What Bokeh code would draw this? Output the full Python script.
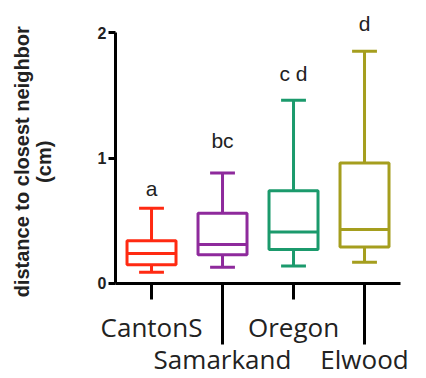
import math
from bokeh.plotting import figure
from bokeh.models import LinearAxis, FixedTicker, Range1d, ColumnDataSource, Label
from bokeh.core.properties import value
from bokeh.embed import file_html
from bokeh.resources import INLINE

# ---- data ----
groups = ["CantonS", "Samarkand", "Oregon", "Elwood"]
whisker_low = [0.09, 0.13, 0.14, 0.17]
q1 = [0.15, 0.23, 0.27, 0.29]
median = [0.24, 0.31, 0.41, 0.43]
q3 = [0.34, 0.56, 0.74, 0.96]
whisker_high = [0.60, 0.88, 1.46, 1.85]
letters = ["a", "bc", "c d", "d"]
letter_y = [0.76, 1.14, 1.67, 2.07]
colors = ["#ff2a12", "#8e2a9c", "#1b9a6c", "#a59e1e"]
y_ticks = [0, 1, 2]
y_title = "distance to closest neighbor\n(cm)"

xs = list(range(1, len(groups) + 1))
box_w = 0.69
cap_w = 0.35
x_axis_start, x_axis_end = 0.493, 4.507

src = ColumnDataSource(dict(
    x=xs, lo=whisker_low, q1=q1, med=median, q3=q3, hi=whisker_high,
    col=colors, letter=letters, ly=letter_y,
    bl=[x - box_w / 2 for x in xs], br=[x + box_w / 2 for x in xs],
    cl=[x - cap_w / 2 for x in xs], cr=[x + cap_w / 2 for x in xs],
))

p = figure(width=426, height=378, output_backend="svg", toolbar_location=None,
           x_range=Range1d(-1.127, 4.873), y_range=Range1d(-0.757, 2.255),
           x_axis_location=None, y_axis_location=None,
           min_border_left=0, min_border_right=0, min_border_top=0, min_border_bottom=0)
p.grid.visible = False
p.outline_line_color = None
p.background_fill_color = "white"

lw = 3
# whiskers
p.segment(x0="x", y0="q3", x1="x", y1="hi", source=src, line_color="col", line_width=lw)
p.segment(x0="x", y0="lo", x1="x", y1="q1", source=src, line_color="col", line_width=lw)
# caps
p.segment(x0="cl", y0="hi", x1="cr", y1="hi", source=src, line_color="col", line_width=lw)
p.segment(x0="cl", y0="lo", x1="cr", y1="lo", source=src, line_color="col", line_width=lw)
# boxes
p.quad(left="bl", right="br", bottom="q1", top="q3", source=src, fill_color=None,
       line_color="col", line_width=lw)
# medians
p.segment(x0="bl", y0="med", x1="br", y1="med", source=src, line_color="col", line_width=lw)
# significance letters
p.text(x="x", y="ly", text="letter", source=src, text_align="center", text_baseline="middle",
       text_font=value("Liberation Sans"), text_font_size="21px", text_color="#222222")

# y axis
ya = LinearAxis(fixed_location=x_axis_start, bounds=(0, 2), ticker=FixedTicker(ticks=y_ticks))
ya.minor_tick_line_color = None
ya.axis_line_width = 3
ya.major_tick_line_width = 3
ya.major_tick_out = 7
ya.major_tick_in = 0
ya.major_label_standoff = 2
ya.major_label_text_font = "Liberation Sans"
ya.major_label_text_font_style = "bold"
ya.major_label_text_font_size = "16px"
ya.major_label_text_color = "#222222"
p.add_layout(ya, "left")

# y axis title
p.add_layout(Label(x=-0.676, y=0.97, text=y_title, angle=math.pi / 2,
                   text_align="center", text_baseline="middle",
                   text_font="Liberation Sans", text_font_style="bold",
                   text_font_size="20px", text_color="#222222", text_line_height=1.0))

label_font = "Open Sans"
# x axis: upper row of labels (short ticks)
xa1 = LinearAxis(fixed_location=0, ticker=FixedTicker(ticks=xs[0::2]),
                 major_label_overrides={xs[i]: groups[i] for i in range(0, len(groups), 2)})
# x axis: lower row of labels (long ticks)
xa2 = LinearAxis(fixed_location=0, ticker=FixedTicker(ticks=xs[1::2]),
                 major_label_overrides={xs[i]: groups[i] for i in range(1, len(groups), 2)})
for ax, tick_len, standoff in ((xa1, 16, 10), (xa2, 61, -3)):
    ax.bounds = (x_axis_start, x_axis_end)
    ax.minor_tick_line_color = None
    ax.axis_line_width = 3
    ax.major_tick_line_width = 3
    ax.major_tick_in = 0
    ax.major_tick_out = tick_len
    ax.major_label_standoff = standoff
    ax.major_label_text_font = label_font
    ax.major_label_text_font_size = "26px"
    ax.major_label_text_color = "#222222"
xa2.axis_line_color = None
p.add_layout(xa1, "below")
p.add_layout(xa2, "below")

open("out.html", "w").write(file_html(p, INLINE))
